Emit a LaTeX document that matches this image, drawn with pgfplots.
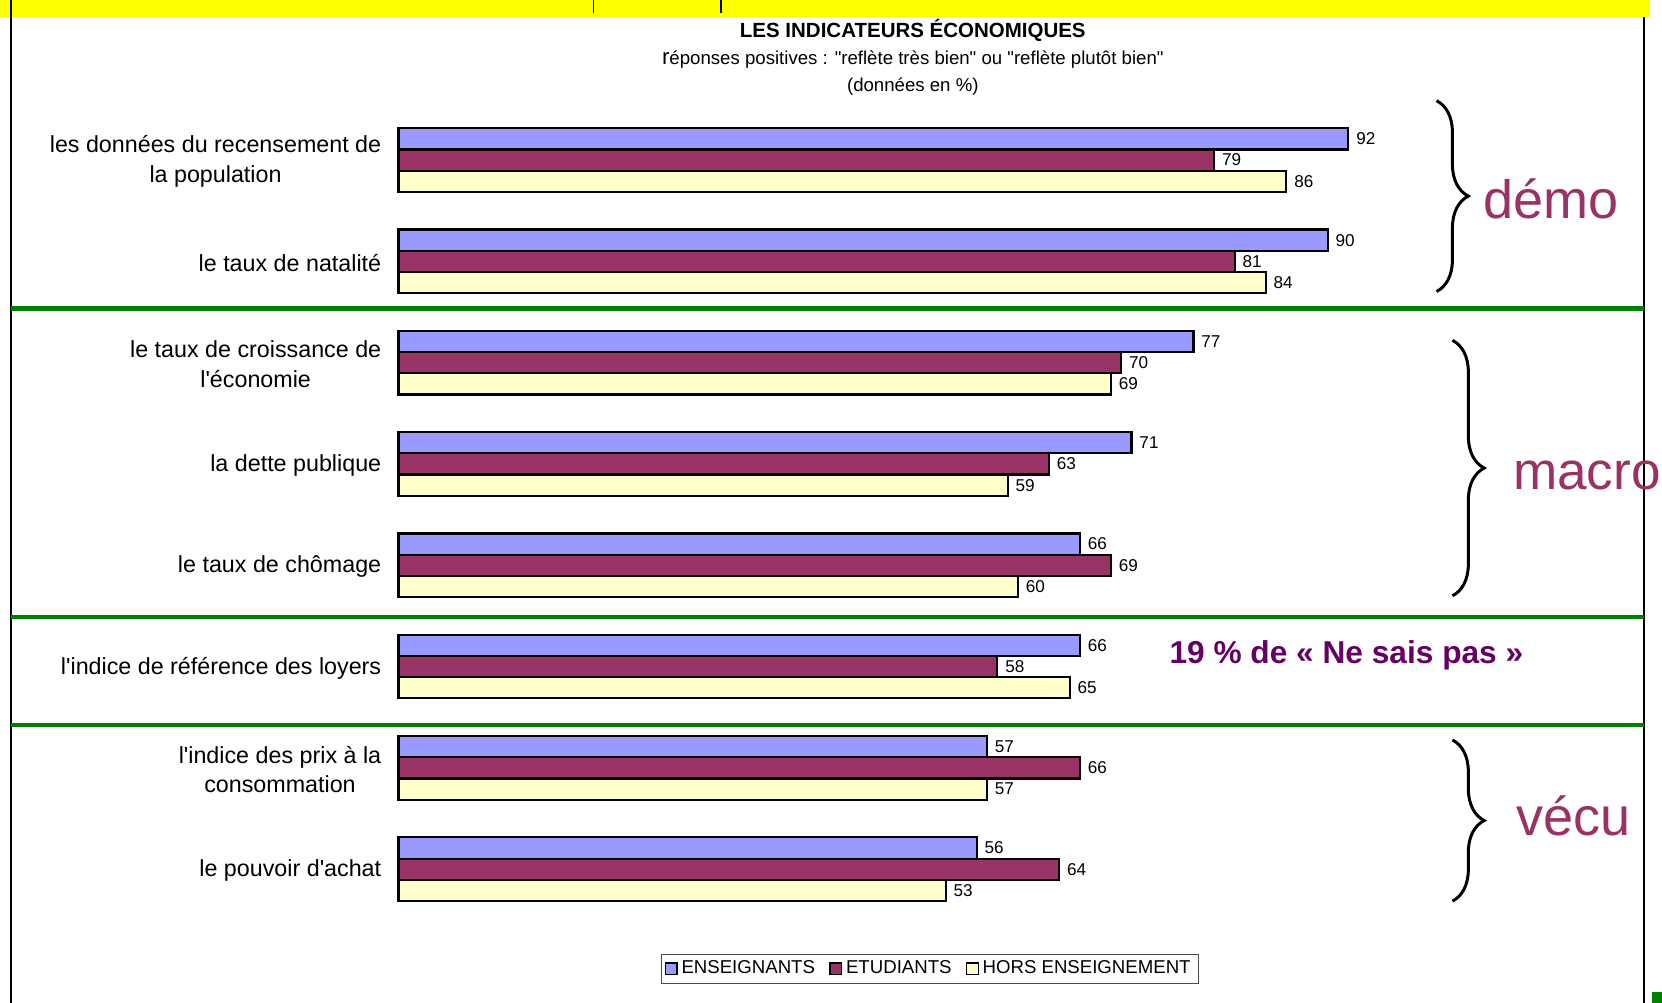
\documentclass[border=0pt]{standalone}
\usepackage{fontspec}
\setmainfont{Liberation Sans}[Ligatures=TeXOff]
\usepackage{pgfplots}
\pgfplotsset{compat=1.18}
\usetikzlibrary{decorations.pathreplacing}
\definecolor{cBlue}{HTML}{9999FF}
\definecolor{cPlum}{HTML}{993366}
\definecolor{cYel}{HTML}{FFFFCC}
\definecolor{cGreen}{HTML}{008000}
\definecolor{cPurple}{HTML}{660066}
\definecolor{cBand}{HTML}{FFFF00}
\begin{document}
\begin{tikzpicture}
\useasboundingbox (0,0) rectangle (31.36,18.92);
\begin{scope}[x=0.02cm, y=-0.02cm, shift={(0cm,18.92cm)}]
  \fill[cBand] (0,0) rectangle (1556,16);
  \draw[line width=0.03cm] (560,0) -- (560,12);
  \draw[line width=0.03cm] (680,0) -- (680,12);
  \draw[line width=0.04cm] (10,0) -- (10,946);
  \draw[line width=0.04cm] (1551,16) -- (1551,946);
  \draw[cGreen, line width=0.08cm] (10,291) -- (1551,291);
  \draw[cGreen, line width=0.08cm] (10,582) -- (1551,582);
  \draw[cGreen, line width=0.08cm] (10,684) -- (1551,684);
  \fill[cGreen] (1558,936) rectangle (1568,946);
  \node[anchor=base, font=\bfseries\fontsize{11}{13}\selectfont] at (861,35) {LES INDICATEURS ÉCONOMIQUES};
  \node[anchor=base, font=\fontsize{10}{12}\selectfont] at (861,61) {{\fontsize{12}{12}\selectfont r}éponses positives : "reflète très bien" ou "reflète plutôt bien"};
  \node[anchor=base, font=\fontsize{10}{12}\selectfont] at (861,86) {(données en \%)};
  \draw[decorate, decoration={brace, amplitude=0.6cm, aspect=0.5}, line width=1.6pt] (1355,95) -- (1355,275);
  \draw[decorate, decoration={brace, amplitude=0.6cm, aspect=0.5}, line width=1.6pt] (1370,321) -- (1370,562);
  \draw[decorate, decoration={brace, amplitude=0.6cm, aspect=0.5}, line width=1.6pt] (1370,698) -- (1370,850);
  \node[anchor=base west, inner sep=0pt, text=cPlum, font=\fontsize{29}{30}\selectfont] at (1399,206) {démo};
  \node[anchor=base west, inner sep=0pt, text=cPlum, font=\fontsize{28.5}{30}\selectfont] at (1427,462) {macro};
  \node[anchor=base west, inner sep=0pt, text=cPlum, font=\fontsize{29}{30}\selectfont] at (1430,788) {vécu};
  \node[anchor=base, inner sep=0pt, text=cPurple, font=\bfseries\fontsize{17}{20}\selectfont] at (1270,626) {19 \% de « Ne sais pas »};
\end{scope}
\begin{axis}[
  at={(7.52cm,1.564cm)}, anchor=south west,
  x=0.1948cm, y=1.9114cm,
  xmin=0, xmax=100, ymin=-0.5, ymax=7.5,
  xbar, bar width=0.4cm,
  axis line style={draw=none},
  xtick=\empty,
  ytick={0,1,2,3,4,5,6,7},
  yticklabels={le pouvoir d'achat,{l'indice des prix à la\\consommation},l'indice de référence des loyers,le taux de chômage,la dette publique,{le taux de croissance de\\l'économie},le taux de natalité,{les données du recensement de\\la population}},
  major tick length=0pt,
  tick style={draw=none},
  yticklabel style={font=\fontsize{12.5}{16}\selectfont, align=center, inner sep=0pt, xshift=-0.32cm, yshift=-0.03cm},
  clip=false,
  nodes near coords,
  nodes near coords style={font=\fontsize{9.2}{11}\selectfont, text=black, anchor=west, inner sep=0pt, xshift=0.13cm},
  /pgf/number format/assume math mode=true,
  legend columns=3,
  legend cell align=left,
  legend style={at={(0.5144,-0.0604)}, anchor=center, draw=black!70, line width=0.5pt,
    font=\fontsize{10}{12}\selectfont, inner xsep=2pt, inner ysep=1.5pt,
    /tikz/every even column/.append style={column sep=0.2cm}},
  legend image code/.code={\draw[#1,line width=0.7pt] (0cm,-0.11cm) rectangle (0.22cm,0.11cm);},
]
\addplot[fill=cBlue, draw=black, line width=0.04cm, bar shift=0.4cm] coordinates {(92,7) (90,6) (77,5) (71,4) (66,3) (66,2) (57,1) (56,0)};
\addplot[fill=cPlum, draw=black, line width=0.04cm, bar shift=0cm] coordinates {(79,7) (81,6) (70,5) (63,4) (69,3) (58,2) (66,1) (64,0)};
\addplot[fill=cYel, draw=black, line width=0.04cm, bar shift=-0.4cm] coordinates {(86,7) (84,6) (69,5) (59,4) (60,3) (65,2) (57,1) (53,0)};
\legend{ENSEIGNANTS,ETUDIANTS,HORS ENSEIGNEMENT}
\end{axis}
\end{tikzpicture}
\end{document}
